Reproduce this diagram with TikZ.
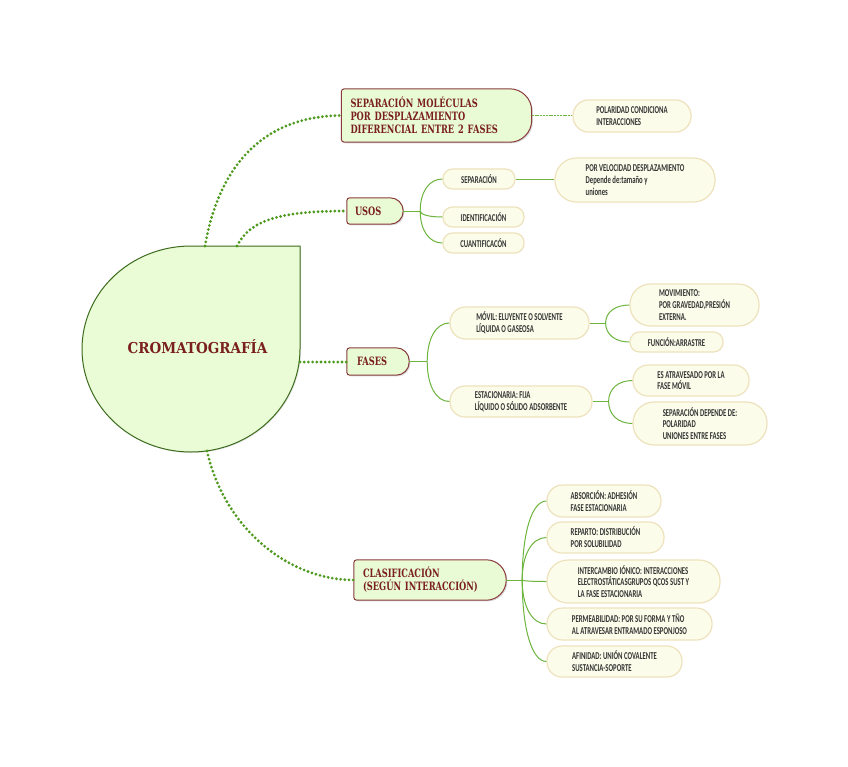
\documentclass[tikz,border=0pt]{standalone}
\usepackage{fontspec}
\usetikzlibrary{shadows,backgrounds,calc}
\newfontfamily\headf{DejaVu Serif}[FakeStretch=0.72]
\newfontfamily\rootf{DejaVu Serif}[FakeStretch=0.9]
\newfontfamily\subf{Carlito}[FakeStretch=0.64]
\definecolor{rootfill}{HTML}{E9FCD5}
\definecolor{rootline}{HTML}{3D6B1E}
\definecolor{mainfill}{HTML}{E8FBD4}
\definecolor{mainline}{HTML}{8A3B3B}
\definecolor{maintext}{HTML}{7A1E1E}
\definecolor{subfill}{HTML}{FBFDEA}
\definecolor{subline}{HTML}{EEE2BD}
\definecolor{subtext}{HTML}{333333}
\definecolor{dotgreen}{HTML}{4E9A1E}
\definecolor{brgreen}{HTML}{6CB43C}
\newcommand{\brto}[2]{%
  \coordinate (brc) at (#1 |- #2.west);
  \draw[branch] (#1) .. controls ($(#1)!0.6!(brc)$) and ($(#2.west)!0.6!(brc)$) .. (#2.west);}
\tikzset{
  rootshape/.style={draw=rootline, fill=rootfill, line width=1pt,
    drop shadow={opacity=0.2, shadow xshift=1pt, shadow yshift=-1pt}},
  rootlabel/.style={font=\rootf\bfseries\fontsize{15}{18}\selectfont, text=maintext, inner sep=0pt},
  mainbox/.style={inner ysep=0pt, align=left, text=maintext,
    font=\headf\bfseries\fontsize{11.5}{13}\selectfont},
  mainshape/.style={draw=mainline, fill=mainfill, line width=1pt,
    drop shadow={opacity=0.3, shadow xshift=1.2pt, shadow yshift=-1.2pt}},
  subbox/.style={draw=subline, fill=subfill, line width=1.2pt, align=left, inner sep=0pt,
    text=subtext, font=\subf\bfseries\fontsize{10.5}{11.8}\selectfont},
  dotlink/.style={draw=dotgreen, line width=3.1pt, line cap=round, dash pattern=on 0pt off 4.2pt},
  branch/.style={draw=brgreen, line width=1pt},
  thinlink/.style={draw=brgreen, line width=0.9pt, dash pattern=on 2pt off 0.8pt},
}
\begin{document}
\begin{tikzpicture}[x=1pt, y=-1pt]
\begin{scope}[on background layer]
\fill[white] (0,0) rectangle (848,766);
\end{scope}
\useasboundingbox (0,0) rectangle (848,766);

% central node
\draw[rootshape] (300,246) -- (300,349) arc[start angle=0, end angle=-270, x radius=109pt, y radius=103pt] -- cycle;
\node[rootlabel] (root) at (197.5,347) {CROMATOGRAFÍA};
\coordinate (rt1) at (205,246);
\coordinate (rt2) at (237,246);
\coordinate (rt3) at (300,362);
\coordinate (rt4) at (207,451);

% main nodes
\node[mainbox, minimum width=190pt, minimum height=53pt, inner xsep=9pt, text width=172pt] (m1) at (436.5,115.5)
  {SEPARACIÓN MOLÉCULAS\\POR DESPLAZAMIENTO\\DIFERENCIAL ENTRE 2 FASES};
\node[mainbox, minimum width=56pt, minimum height=26pt, inner xsep=8pt, text width=40pt] (m2) at (375,211) {USOS};
\node[mainbox, minimum width=62pt, minimum height=27pt, inner xsep=10pt, text width=42pt] (m3) at (378,361.5) {FASES};
\node[mainbox, minimum width=152pt, minimum height=40pt, inner xsep=9pt, text width=134pt] (m4) at (430,580)
  {CLASIFICACIÓN\\(SEGÚN INTERACCIÓN)};
\begin{scope}[on background layer]
\foreach \n/\r in {m1/22pt, m2/13pt, m3/13pt, m4/20pt}{
  \path[mainshape] ([xshift=-\r]\n.north east) arc[start angle=90, end angle=0, radius=\r]
    -- ([yshift=\r]\n.south east) arc[start angle=0, end angle=-90, radius=\r]
    -- ([xshift=3pt]\n.south west) arc[start angle=-90, end angle=-180, radius=3pt]
    -- ([yshift=-3pt]\n.north west) arc[start angle=180, end angle=90, radius=3pt]
    -- cycle;
}
\end{scope}

% sub nodes
\node[subbox, minimum width=118pt, minimum height=32pt, rounded corners=15.5pt] (s1) at (632,116) {POLARIDAD CONDICIONA\\INTERACCIONES};
\node[subbox, minimum width=72pt, minimum height=20pt, rounded corners=9.5pt] (u1) at (479,179) {SEPARACIÓN};
\node[subbox, minimum width=81pt, minimum height=20pt, rounded corners=9.5pt] (u2) at (483.5,217) {IDENTIFICACIÓN};
\node[subbox, minimum width=81pt, minimum height=20pt, rounded corners=9.5pt] (u3) at (483.5,243) {CUANTIFICACÓN};
\node[subbox, minimum width=160pt, minimum height=44pt, rounded corners=21.5pt] (u4) at (635,180) {POR VELOCIDAD DESPLAZAMIENTO\\Depende de:tamaño y\\uniones};
\node[subbox, minimum width=139pt, minimum height=32pt, rounded corners=15.5pt] (f1) at (519.5,323) {MÓVIL: ELUYENTE O SOLVENTE\\LÍQUIDA O GASEOSA};
\node[subbox, minimum width=129pt, minimum height=42pt, rounded corners=20.5pt] (f11) at (694.5,305) {MOVIMIENTO:\\POR GRAVEDAD,PRESIÓN\\EXTERNA.};
\node[subbox, minimum width=93pt, minimum height=20pt, rounded corners=9.5pt] (f12) at (676.5,342) {FUNCIÓN:ARRASTRE};
\node[subbox, minimum width=142pt, minimum height=31pt, rounded corners=15pt] (f2) at (521,401.5) {ESTACIONARIA: FIJA\\LÍQUIDO O SÓLIDO ADSORBENTE};
\node[subbox, minimum width=116pt, minimum height=31pt, rounded corners=15pt] (f21) at (691,380.5) {ES ATRAVESADO POR LA\\FASE MÓVIL};
\node[subbox, minimum width=134pt, minimum height=43pt, rounded corners=21pt] (f22) at (700,423.5) {SEPARACIÓN DEPENDE DE:\\POLARIDAD\\UNIONES ENTRE FASES};
\node[subbox, minimum width=114pt, minimum height=32pt, rounded corners=15.5pt] (c1) at (604,501) {ABSORCIÓN: ADHESIÓN\\FASE ESTACIONARIA};
\node[subbox, minimum width=117pt, minimum height=31pt, rounded corners=15pt] (c2) at (605.5,537.5) {REPARTO: DISTRIBUCIÓN\\POR SOLUBILIDAD};
\node[subbox, minimum width=173pt, minimum height=43pt, rounded corners=21pt] (c3) at (633.5,581.5) {INTERCAMBIO IÓNICO: INTERACCIONES\\ELECTROSTÁTICASGRUPOS QCOS SUST Y\\LA FASE ESTACIONARIA};
\node[subbox, minimum width=165pt, minimum height=32pt, rounded corners=15.5pt] (c4) at (629.5,624) {PERMEABILIDAD: POR SU FORMA Y TÑO\\AL ATRAVESAR ENTRAMADO ESPONJOSO};
\node[subbox, minimum width=135pt, minimum height=31pt, rounded corners=15pt] (c5) at (614.5,661.5) {AFINIDAD: UNIÓN COVALENTE\\SUSTANCIA-SOPORTE};

% main dotted connectors
\draw[dotlink] (rt1) .. controls (218,170) and (260,116) .. (m1.west);
\draw[dotlink] (rt2) .. controls (250,220) and (280,211) .. (m2.west);
\draw[dotlink] (rt3) -- (rt3 -| m3.west);
\draw[dotlink] (rt4) .. controls (225,530) and (290,580) .. (m4.west);

% branches
\draw[thinlink] (m1.east) -- (m1.east -| s1.west);
\coordinate (jU) at ([xshift=17pt]m2.east);
\draw[branch] (m2.east) -- (jU);
\brto{jU}{u1} \brto{jU}{u2} \brto{jU}{u3}
\draw[branch] (u1.east) -- (u1.east -| u4.west);

\coordinate (jF) at ([xshift=18pt]m3.east);
\draw[branch] (m3.east) -- (jF);
\brto{jF}{f1} \brto{jF}{f2}
\coordinate (jF1) at ([xshift=16pt]f1.east);
\draw[branch] (f1.east) -- (jF1);
\brto{jF1}{f11} \brto{jF1}{f12}
\coordinate (jF2) at ([xshift=16pt]f2.east);
\draw[branch] (f2.east) -- (jF2);
\brto{jF2}{f21} \brto{jF2}{f22}

\coordinate (jC) at ([xshift=16pt]m4.east);
\draw[branch] (m4.east) -- (jC);
\brto{jC}{c1} \brto{jC}{c2} \brto{jC}{c3} \brto{jC}{c4} \brto{jC}{c5}
\end{tikzpicture}
\end{document}
